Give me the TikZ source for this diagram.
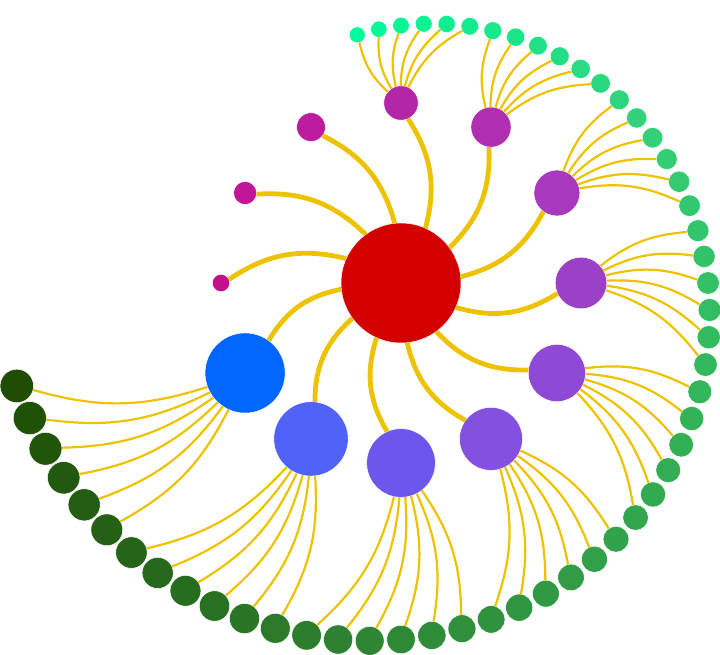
\documentclass[tikz,border=0pt]{standalone}
\usepackage{xcolor}
\usepackage{tikz}
\usetikzlibrary{arrows.meta}

\definecolor{rootred}{HTML}{D40000}
\definecolor{linkgold}{HTML}{EDC200}
% hub colours, from the small one on the left round to the blue one
\definecolor{hc0}{HTML}{C2108C}
\definecolor{hc1}{HTML}{C0179A}
\definecolor{hc2}{HTML}{BD1C9E}
\definecolor{hc3}{HTML}{B426A8}
\definecolor{hc4}{HTML}{B02EB0}
\definecolor{hc5}{HTML}{A838BE}
\definecolor{hc6}{HTML}{9C40C8}
\definecolor{hc7}{HTML}{9049D6}
\definecolor{hc8}{HTML}{8350E0}
\definecolor{hc9}{HTML}{6B57EB}
\definecolor{hc10}{HTML}{5062F8}
\definecolor{hc11}{HTML}{0066FF}
% leaf colour stops
\definecolor{ls0}{HTML}{00FA9A}
\definecolor{ls1}{HTML}{33D27A}
\definecolor{ls2}{HTML}{33B055}
\definecolor{ls3}{HTML}{2E8533}
\definecolor{ls4}{HTML}{1E4D03}

\begin{document}
\begin{tikzpicture}[x=1pt, y=1pt,
		dot/.style={circle, inner sep=0pt, outer sep=0pt, draw=white, line width=0.5pt},
		trunk/.style={draw=linkgold, line width=4.8pt, bend right=24},
		twig/.style={draw=linkgold, line width=2.2pt, bend left=17}]
	\useasboundingbox (0,0) rectangle (720,655);
	\begin{scope}[shift={(401,372)}]
		\node[dot, fill=rootred, minimum size=120pt] (root) at (0,0) {};

		% twelve hubs on one ring
		\foreach \k in {0,...,11} {
			\pgfmathsetmacro{\ang}{180-30*\k}
			\pgfmathsetmacro{\sz}{2*(8.7+2.85*\k)}
			\node[dot, fill=hc\k, minimum size=\sz pt] (h\k) at (\ang:180) {};
		}

		% leaves on a spiral
		\foreach \j in {1,...,54} {
			\pgfmathsetmacro{\ang}{100-5*(\j-1)}
			\pgfmathsetmacro{\rad}{252+2.75*(\j-1)}
			\pgfmathsetmacro{\sz}{2*(8+0.165*(\j-1))}
			\pgfmathtruncatemacro{\seg}{min(floor((\j-1)/13),3)}
			\pgfmathtruncatemacro{\nxt}{\seg+1}
			\pgfmathtruncatemacro{\pct}{100*(\j-1-13*\seg)/ifthenelse(\seg==3,14,13)}
			\colorlet{leafcol}{ls\nxt!\pct!ls\seg}
			\node[dot, fill=leafcol, minimum size=\sz pt] (l\j) at (\ang:\rad) {};
		}

		\foreach \k in {0,...,11}
			\path (root) edge[trunk] (h\k);

		\foreach \j in {1,...,54} {
			\pgfmathtruncatemacro{\hub}{3+floor((\j-1)/6)}
			\path (h\hub) edge[twig] (l\j);
		}
	\end{scope}
\end{tikzpicture}
\end{document}
